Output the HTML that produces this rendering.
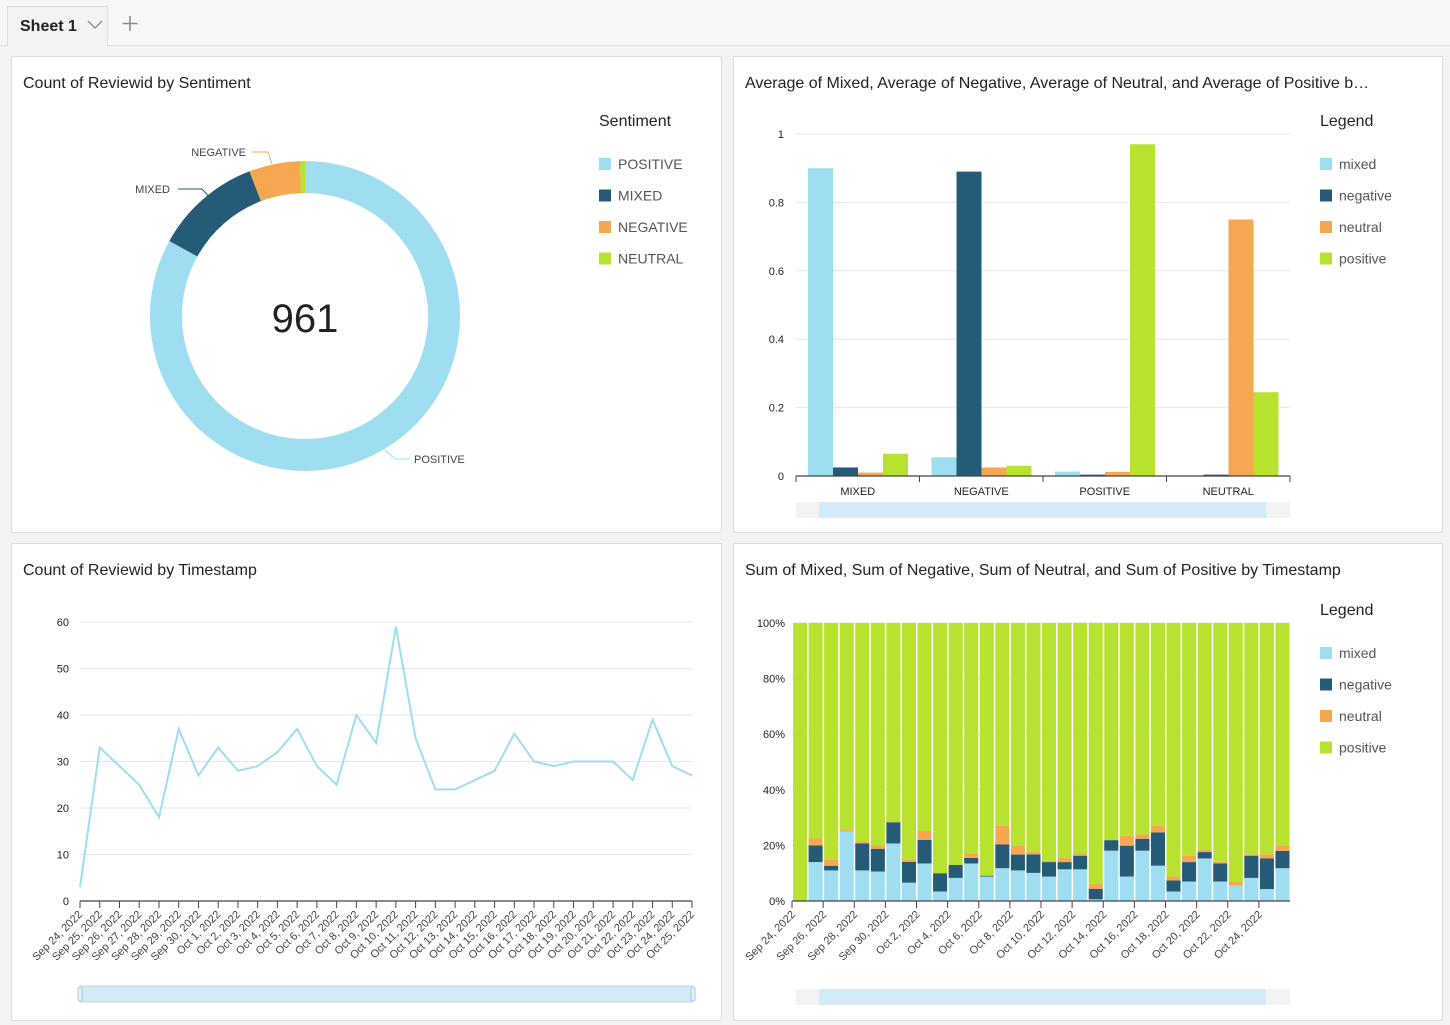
<!DOCTYPE html>
<html><head><meta charset="utf-8">
<style>
body{margin:0;width:1450px;height:1025px;background:#f2f3f3;font-family:"Liberation Sans",sans-serif;position:relative;overflow:hidden}
.panel{position:absolute;background:#fff;border:1px solid #dcdcdc;box-sizing:border-box}
.title{position:absolute;left:11px;top:18px;font-size:16px;color:#222}
svg{position:absolute;left:0;top:0}
svg text{font-family:"Liberation Sans",sans-serif}
</style></head><body>
<div style="position:absolute;left:0;top:0;width:1450px;height:45px;background:#f7f7f7;border-bottom:1px solid #ddd"></div>
<div style="position:absolute;left:7px;top:6px;width:101px;height:40px;background:#f2f3f3;border:1px solid #ddd;border-bottom:none;box-sizing:border-box">
<span style="position:absolute;left:12px;top:11px;font-size:16px;font-weight:bold;color:#222">Sheet 1</span>
<svg width="100" height="40"><path d="M80 14 L87 21 L94 14" fill="none" stroke="#888" stroke-width="1.3"/></svg></div>
<svg width="30" height="45" style="left:115px"><path d="M15 16 V31 M7.5 23.5 H22.5" stroke="#888" stroke-width="1.5"/></svg>

<div class="panel" style="left:11px;top:56px;width:711px;height:477px"><div class="title">Count of Reviewid by Sentiment</div></div>
<div class="panel" style="left:733px;top:56px;width:710px;height:477px"><div class="title">Average of Mixed, Average of Negative, Average of Neutral, and Average of Positive b…</div></div>
<div class="panel" style="left:11px;top:543px;width:711px;height:478px"><div class="title">Count of Reviewid by Timestamp</div></div>
<div class="panel" style="left:733px;top:543px;width:710px;height:478px"><div class="title">Sum of Mixed, Sum of Negative, Sum of Neutral, and Sum of Positive by Timestamp</div></div>

<svg id="main" width="1450" height="1025"></svg>
<script>
const donutLabels=["POSITIVE","MIXED","NEGATIVE","NEUTRAL"];
const donutValues=[798,107,51,5];
const avgCategories=["MIXED","NEGATIVE","POSITIVE","NEUTRAL"];
const avgMixed=[0.9,0.055,0.013,0.002];
const avgNegative=[0.025,0.89,0.004,0.004];
const avgNeutral=[0.01,0.025,0.012,0.75];
const avgPositive=[0.065,0.03,0.97,0.245];
const avgTicks=["0","0.2","0.4","0.6","0.8","1"];
const lineDates=["Sep 24, 2022","Sep 25, 2022","Sep 26, 2022","Sep 27, 2022","Sep 28, 2022","Sep 29, 2022","Sep 30, 2022","Oct 1, 2022","Oct 2, 2022","Oct 3, 2022","Oct 4, 2022","Oct 5, 2022","Oct 6, 2022","Oct 7, 2022","Oct 8, 2022","Oct 9, 2022","Oct 10, 2022","Oct 11, 2022","Oct 12, 2022","Oct 13, 2022","Oct 14, 2022","Oct 15, 2022","Oct 16, 2022","Oct 17, 2022","Oct 18, 2022","Oct 19, 2022","Oct 20, 2022","Oct 21, 2022","Oct 22, 2022","Oct 23, 2022","Oct 24, 2022","Oct 25, 2022"];
const lineCounts=[3,33,29,25,18,37,27,33,28,29,32,37,29,25,40,34,59,35,24,24,26,28,36,30,29,30,30,30,26,39,29,27];
const lineTicks=[0,10,20,30,40,50,60];
const stMixed=[0,14,11,25,11,10.6,20.7,6.6,13.5,3.4,8.3,13.5,8.8,11.8,11,10.1,8.8,11.4,11.4,0.6,18.1,8.8,18.1,12.7,3.4,7,15.3,7,5.5,8.3,4.3,11.8];
const stNegative=[0,6,1.7,0,9.7,8.2,7.6,7.5,8.5,6.6,4.7,2,0.3,8.6,5.7,6.7,5.2,2.6,4.9,3.8,3.8,11.1,4.3,12,4,7,2.3,6.5,0,8,11,6.2];
const stNeutral=[0,2.5,2.3,0.5,0.8,1.3,0.4,0.9,3.2,0,0,1.6,0,6.6,3.2,0.8,0.5,1.5,0.8,1.7,0,3.6,1.5,2.3,1.4,2.3,1,0.6,1.6,0.5,1.5,1.9];
const stTicks=["0%","20%","40%","60%","80%","100%"];
</script>
<script>
const NS="http://www.w3.org/2000/svg";
const svg=document.getElementById('main');
const C={mixed:"#9fdef1",negative:"#265b78",neutral:"#f6a751",positive:"#b7e22f"};
function el(t,a,parent){const e=document.createElementNS(NS,t);for(const k in a)e.setAttribute(k,a[k]);(parent||svg).appendChild(e);return e;}
function txt(s,a){const e=el('text',a);e.textContent=s;return e;}

// Donut
const cx=305,cy=316,ro=155,ri=123;
const total=donutValues.reduce((a,b)=>a+b,0);
const dcol=[C.mixed,C.negative,C.neutral,C.positive];
let ang=0;
function pt(r,a){return [cx+r*Math.sin(a),cy-r*Math.cos(a)];}
donutValues.forEach((v,i)=>{
 const a0=ang,a1=ang+v/total*2*Math.PI;ang=a1;
 const [x0,y0]=pt(ro,a0),[x1,y1]=pt(ro,a1),[x2,y2]=pt(ri,a1),[x3,y3]=pt(ri,a0);
 const lg=(a1-a0)>Math.PI?1:0;
 const p=el('path',{d:`M${x0} ${y0} A${ro} ${ro} 0 ${lg} 1 ${x1} ${y1} L${x2} ${y2} A${ri} ${ri} 0 ${lg} 0 ${x3} ${y3}Z`,fill:dcol[i]});
 
 
});
let t=txt("961",{x:cx,y:332,'font-size':40,'text-anchor':'middle',fill:'#222'});

el('path',{d:'M385 450 L395 459 L410 459',fill:'none',stroke:C.mixed,'stroke-width':1});
txt("POSITIVE",{x:414,y:463,'font-size':11,fill:'#444'});
el('path',{d:'M178 189 L202 189 L214 202',fill:'none',stroke:C.negative,'stroke-width':1});
txt("MIXED",{x:170,y:193,'font-size':11,fill:'#444','text-anchor':'end'});
el('path',{d:'M252 152 L268 152 L272 164',fill:'none',stroke:C.neutral,'stroke-width':1});
txt("NEGATIVE",{x:246,y:156,'font-size':11,fill:'#444','text-anchor':'end'});
txt("Sentiment",{x:599,y:126,'font-size':16,fill:'#222'});
donutLabels.forEach((l,i)=>{
 const r=el('rect',{x:599,y:158+i*31.5,width:12,height:12,fill:dcol[i]});
 
 txt(l,{x:618,y:169+i*31.5,'font-size':14,fill:'#555'});
});

function legend(y0,pref){
 txt("Legend",{x:1320,y:y0,'font-size':16,fill:'#222'});
 ["mixed","negative","neutral","positive"].forEach((k,i)=>{
  const r=el('rect',{x:1320,y:y0+32+i*31.5,width:12,height:12,fill:C[k]});
  
  txt(k,{x:1339,y:y0+43+i*31.5,'font-size':14,fill:'#555'});
 });
}
legend(126,'avg');legend(615,'sum');

// Avg bar chart
const bx0=796,bx1=1290,by0=476,by1=134;
const yb=v=>by0-v*(by0-by1);
avgTicks.forEach((s,i)=>{const v=i/5;const y=yb(v);
 if(i>0)el('line',{x1:796,x2:1290,y1:y,y2:y,stroke:'#e6e6e6'});
 txt(s,{x:784,y:y+4,'font-size':11,fill:'#222','text-anchor':'end'});});
const gw=(bx1-bx0)/avgCategories.length;
const series=[[avgMixed,C.mixed,'mixed'],[avgNegative,C.negative,'negative'],[avgNeutral,C.neutral,'neutral'],[avgPositive,C.positive,'positive']];
avgCategories.forEach((c,g)=>{
 series.forEach(([arr,col,nm],k)=>{
  const x=bx0+g*gw+12+k*25;const y=yb(arr[g]);
  const r=el('rect',{x:x,y:y,width:25,height:by0-y,fill:col});
  
 });
 txt(c,{x:bx0+g*gw+gw/2,y:495,'font-size':11,fill:'#222','text-anchor':'middle'});
 el('line',{x1:bx0+g*gw,x2:bx0+g*gw,y1:476,y2:482,stroke:'#444'});
});
el('line',{x1:1290,x2:1290,y1:476,y2:482,stroke:'#444'});
el('line',{x1:796,x2:1290,y1:476,y2:476,stroke:'#444','stroke-width':1.2});
function scroll(x0,x1,y,a,b,n){
 el('rect',{x:x0,y:y,width:x1-x0,height:16,fill:'#f3f3f3'});
 const r=el('rect',{x:a,y:y,width:b-a,height:16,fill:'#d3ebf6'});
 
}
scroll(796,1290,502,819,1266,'avg-scrollbar');

// Line chart
const lx0=80,lx1=692,ly0=901,ly1=622;
const xl=i=>lx0+i*(lx1-lx0)/(lineDates.length-1);
const yl=v=>ly0-v/60*(ly0-ly1);
lineTicks.forEach(v=>{const y=yl(v);
 if(v>0)el('line',{x1:lx0,x2:lx1,y1:y,y2:y,stroke:'#e6e6e6'});
 txt(String(v),{x:69,y:y+4,'font-size':11,fill:'#222','text-anchor':'end'});});
el('line',{x1:lx0,x2:lx1,y1:ly0,y2:ly0,stroke:'#444','stroke-width':1.2});
lineDates.forEach((d,i)=>{const x=xl(i);
 el('line',{x1:x,x2:x,y1:ly0,y2:ly0+7,stroke:'#444'});
 txt(d,{x:x+3,y:ly0+14,'font-size':11,fill:'#444','text-anchor':'end',transform:`rotate(-45 ${x+3} ${ly0+14})`});});
const lp=el('polyline',{points:lineCounts.map((v,i)=>xl(i)+','+yl(v)).join(' '),fill:'none',stroke:C.mixed,'stroke-width':2});

const ls=el('rect',{x:80,y:986,width:613,height:16,fill:'#d3ebf6',stroke:'#b9d9ea'});

el('rect',{x:78,y:987,width:4,height:14,rx:2,fill:'#e6f2f8',stroke:'#aac8d8'});
el('rect',{x:691,y:987,width:4,height:14,rx:2,fill:'#e6f2f8',stroke:'#aac8d8'});

// Stacked chart
const sx0=792,sx1=1290,sy0=901,sy1=623;
const pitch=(sx1-sx0)/stMixed.length;
const ys=v=>sy0-v/100*(sy0-sy1);
stTicks.forEach((s,i)=>{const y=ys(i*20);
 if(i>0)el('line',{x1:sx0,x2:sx1,y1:y,y2:y,stroke:'#e6e6e6'});
 txt(s,{x:785,y:y+4,'font-size':11,fill:'#222','text-anchor':'end'});});
stMixed.forEach((m,i)=>{
 const x=sx0+i*pitch+1;let acc=0;
 [[m,C.mixed,'mixed'],[stNegative[i],C.negative,'negative'],[stNeutral[i],C.neutral,'neutral'],[100-m-stNegative[i]-stNeutral[i],C.positive,'positive']].forEach(([v,col,nm])=>{
  const y=ys(acc+v);const h=ys(acc)-y;acc+=v;
  const r=el('rect',{x:x,y:y,width:pitch-1.5,height:h,fill:col});
  
 });
 if(i%2==0){el('line',{x1:sx0+i*pitch,x2:sx0+i*pitch,y1:sy0,y2:sy0+7,stroke:'#444'});
  const tx=sx0+i*pitch+4;
  txt(lineDates[i],{x:tx,y:sy0+14,'font-size':11,fill:'#444','text-anchor':'end',transform:`rotate(-45 ${tx} ${sy0+14})`});}
});
el('line',{x1:sx0,x2:sx1,y1:sy0,y2:sy0,stroke:'#444','stroke-width':1.2});
scroll(796,1290,989,819,1266,'stacked-scrollbar');
</script>
</body></html>
